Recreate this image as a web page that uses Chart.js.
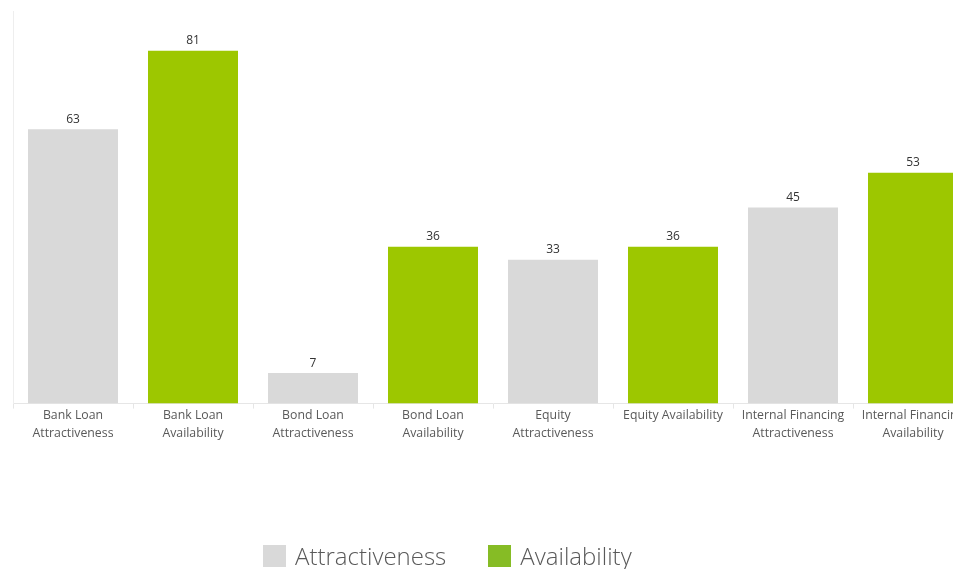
<!DOCTYPE html>
<html>
<head>
<meta charset="utf-8">
<script src="https://cdn.jsdelivr.net/npm/chart.js@4"></script>
<style>
  html, body { margin: 0; padding: 0; background: #fff; overflow: hidden; }
  #wrap { position: relative; width: 985px; height: 569px; }
  #legend { position: absolute; left: 263px; top: 539px; display: flex; align-items: center;
            font-family: "Open Sans", sans-serif; font-size: 24px; color: #595959; font-weight: 300; }
  #legend .item { display: flex; align-items: center; margin-right: 42px; }
  #legend .box { width: 23px; height: 22px; margin-right: 9px; }
</style>
</head>
<body>
<div id="wrap">
  <canvas id="financechart"></canvas>
  <div id="legend"></div>
</div>
<script>
  // Setup Block
  const categories = [
    ['Bank Loan', 'Attractiveness'], ['Bank Loan', 'Availability'],
    ['Bond Loan', 'Attractiveness'], ['Bond Loan', 'Availability'],
    ['Equity', 'Attractiveness'], 'Equity Availability',
    ['Internal Financing', 'Attractiveness'], ['Internal Financing', 'Availability']
  ];
  const attractiveness = [63, null, 7, null, 33, null, 45, null];
  const availability = [null, 81, null, 36, null, 36, null, 53];

  const data_finance = {
    labels: categories,
    datasets: [{
      label: 'Attractiveness',
      data: attractiveness,
      backgroundColor: '#d9d9d9',
      legendColor: '#d9d9d9'
    }, {
      label: 'Availability',
      data: availability,
      backgroundColor: '#9dc700',
      legendColor: '#86bc25'
    }]
  };

  // value labels above each bar
  const barValues = {
    id: 'barValues',
    afterDatasetsDraw(chart) {
      const ctx = chart.ctx;
      ctx.save();
      ctx.font = '12px "Open Sans", sans-serif';
      ctx.fillStyle = '#333333';
      ctx.textAlign = 'center';
      ctx.textBaseline = 'middle';
      chart.data.datasets.forEach((ds, i) => {
        chart.getDatasetMeta(i).data.forEach((bar, j) => {
          if (ds.data[j] == null) return;
          ctx.fillText(ds.data[j], bar.x, bar.y - 10);
        });
      });
      ctx.restore();
    }
  };

  // Config Block
  const config_finance = {
    type: 'bar',
    data: data_finance,
    plugins: [barValues],
    options: {
      responsive: true,
      maintainAspectRatio: false,
      animation: false,
      skipNull: true,
      categoryPercentage: 1,
      barPercentage: 0.75,
      layout: {
        padding: { left: 5, right: 12, top: 11.5, bottom: 128 }
      },
      plugins: {
        legend: { display: false },
        tooltip: { enabled: false }
      },
      scales: {
        x: {
          offset: true,
          grid: { display: true, drawOnChartArea: false, tickLength: 5, color: '#e6e6e6', offset: true },
          border: { display: true, color: '#e6e6e6' },
          ticks: {
            color: '#595959',
            font: { family: '"Open Sans", sans-serif', size: 12.3, lineHeight: 1.48 },
            padding: -2,
            maxRotation: 0,
            autoSkip: false
          }
        },
        y: {
          min: 0,
          max: 90,
          grid: { display: false },
          border: { display: true, color: '#eeeeee' },
          ticks: { display: false }
        }
      }
    }
  };

  // Render Block
  const financechart = new Chart(
    document.getElementById('financechart'),
    config_finance
  );

  // legend built from the datasets
  const legendEl = document.getElementById('legend');
  financechart.data.datasets.forEach(ds => {
    const item = document.createElement('div');
    item.className = 'item';
    const box = document.createElement('span');
    box.className = 'box';
    box.style.background = ds.legendColor;
    const txt = document.createElement('span');
    txt.textContent = ds.label;
    item.appendChild(box);
    item.appendChild(txt);
    legendEl.appendChild(item);
  });
</script>
</body>
</html>
